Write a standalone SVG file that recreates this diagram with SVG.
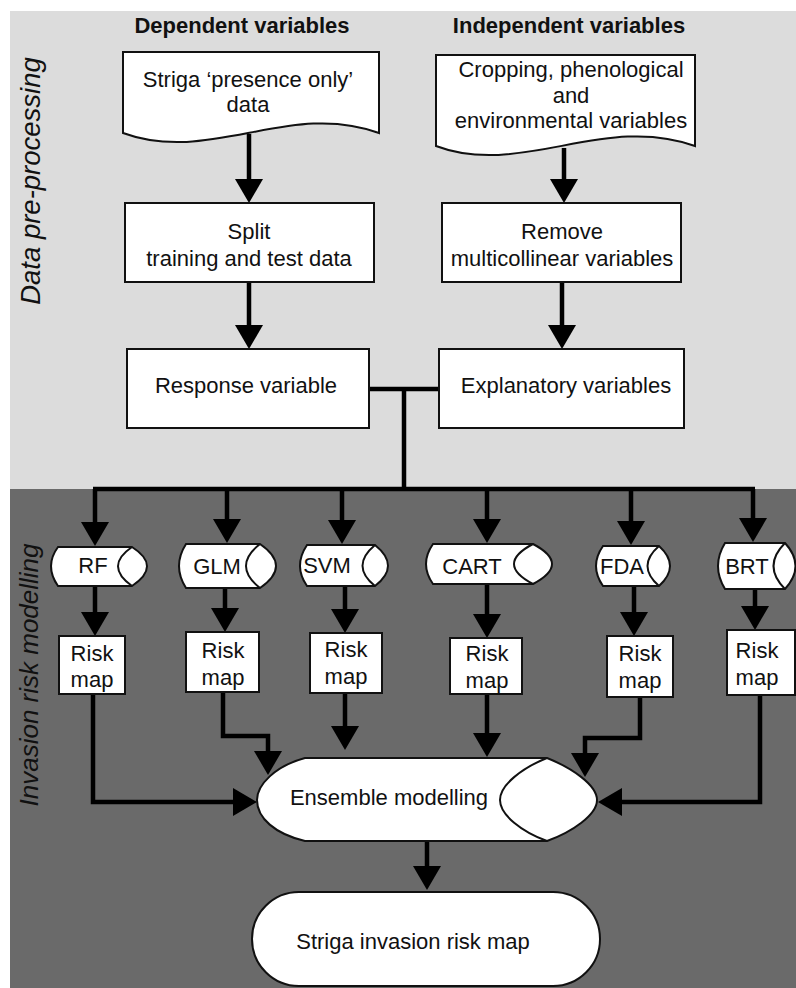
<svg xmlns="http://www.w3.org/2000/svg" width="796" height="988" viewBox="0 0 796 988">
<defs>
<style>
text{font-family:"Liberation Sans",Arial,sans-serif;font-size:22px;fill:#111;text-anchor:middle}
.hdr{font-weight:bold}
.side{font-style:italic;font-size:26px}
.side2{font-size:27.5px}
.box{fill:#fff;stroke:#111;stroke-width:2}
.ln{fill:none;stroke:#000;stroke-width:4.5}
.arr{marker-end:url(#ah)}
</style>
<marker id="ah" markerUnits="userSpaceOnUse" markerWidth="24" markerHeight="28" viewBox="0 0 24 28" refX="0" refY="14" orient="auto"><path d="M0,0 L24,14 L0,28 Z" fill="#000"/></marker>
</defs>
<rect x="0" y="0" width="796" height="988" fill="#fff"/>
<rect x="10" y="11" width="786" height="478" fill="#dcdcdc"/>
<rect x="10" y="489" width="786" height="499" fill="#6a6a6a"/>

<text class="side side2" transform="translate(40,181) rotate(-90)" x="0" y="0">Data pre-processing</text>
<text class="side" transform="translate(38,675) rotate(-90)" x="0" y="0">Invasion risk modelling</text>

<text class="hdr" x="242" y="33">Dependent variables</text>
<text class="hdr" x="569" y="33">Independent variables</text>

<g id="connectors">
<path class="ln arr" d="M249,134 V179"/>
<path class="ln arr" d="M564,148 V179"/>
<path class="ln arr" d="M249,282 V325"/>
<path class="ln arr" d="M562,282 V325"/>
<path class="ln" d="M369,389 H439 M404,389 V489"/>
<path class="ln" d="M93,489 H755"/>
<path class="ln arr" d="M95,489 V522"/>
<path class="ln arr" d="M227,489 V519"/>
<path class="ln arr" d="M342,489 V520"/>
<path class="ln arr" d="M487,489 V519"/>
<path class="ln arr" d="M631,489 V521"/>
<path class="ln arr" d="M753,489 V518"/>
<path class="ln arr" d="M95,586 V612"/>
<path class="ln arr" d="M225,588 V608"/>
<path class="ln arr" d="M345,586 V609"/>
<path class="ln arr" d="M487,584 V614"/>
<path class="ln arr" d="M634,586 V612"/>
<path class="ln arr" d="M755,589 V606"/>
<path class="ln arr" d="M93,694 V802 H233"/>
<path class="ln arr" d="M223,692 V736 H268 V751"/>
<path class="ln arr" d="M345,693 V726"/>
<path class="ln arr" d="M487,694 V733"/>
<path class="ln arr" d="M640,697 V738 H585 V753"/>
<path class="ln arr" d="M760,695 V802 H622"/>
<path class="ln arr" d="M427,841 V866"/>
</g>

<g id="striga-data">
<path class="box" d="M123,52 H379 V133 C290,100 210,165 123,133 Z"/>
<text x="248" y="87">Striga ‘presence only’</text>
<text x="248" y="112">data</text>
</g>
<g id="independent-data">
<path class="box" d="M436,55 H695 V146 C605,113 520,178 436,146 Z"/>
<text x="571" y="77">Cropping, phenological</text>
<text x="571" y="103">and</text>
<text x="571" y="128">environmental variables</text>
</g>
<g id="split">
<rect class="box" x="125" y="203" width="249" height="79"/>
<text x="249" y="239">Split</text>
<text x="249" y="266">training and test data</text>
</g>
<g id="remove">
<rect class="box" x="442" y="203" width="239" height="79"/>
<text x="562" y="239">Remove</text>
<text x="562" y="266">multicollinear variables</text>
</g>
<g id="response">
<rect class="box" x="127" y="349" width="242" height="79"/>
<text x="246" y="393">Response variable</text>
</g>
<g id="explanatory">
<rect class="box" x="439" y="349" width="245" height="79"/>
<text x="566" y="393">Explanatory variables</text>
</g>

<g id="rf">
<path class="box" d="M58,547 H132 Q162,566 132,586 H58 Q44,566 58,547 Z"/>
<path class="box" d="M132,547 Q104,566 132,586"/>
<text x="93" y="573">RF</text>
</g>
<g id="glm">
<path class="box" d="M186,544 H260 Q292,566 260,588 H186 Q172,566 186,544 Z"/>
<path class="box" d="M260,544 Q232,566 260,588"/>
<text x="217" y="574">GLM</text>
</g>
<g id="svm">
<path class="box" d="M307,545 H375 Q401,566 375,586 H307 Q293,566 307,545 Z"/>
<path class="box" d="M375,545 Q350,566 375,586"/>
<text x="327" y="573">SVM</text>
</g>
<g id="cart">
<path class="box" d="M433,544 H533 Q571,564 533,584 H433 Q419,564 433,544 Z"/>
<path class="box" d="M533,544 Q495,564 533,584"/>
<text x="472" y="574">CART</text>
</g>
<g id="fda">
<path class="box" d="M603,546 H659 Q681,566 659,586 H603 Q589,566 603,546 Z"/>
<path class="box" d="M659,546 Q636,566 659,586"/>
<text x="622" y="574">FDA</text>
</g>
<g id="brt">
<path class="box" d="M725,543 H785 Q806,566 785,589 H725 Q711,566 725,543 Z"/>
<path class="box" d="M785,543 Q762,566 785,589"/>
<text x="747" y="574">BRT</text>
</g>

<g id="risk-rf">
<rect class="box" x="59" y="636" width="66" height="58"/>
<text x="92" y="661">Risk</text><text x="92" y="687">map</text>
</g>
<g id="risk-glm">
<rect class="box" x="186" y="632" width="73" height="60"/>
<text x="223" y="658">Risk</text><text x="223" y="685">map</text>
</g>
<g id="risk-svm">
<rect class="box" x="310" y="633" width="72" height="60"/>
<text x="346" y="657">Risk</text><text x="346" y="684">map</text>
</g>
<g id="risk-cart">
<rect class="box" x="450" y="638" width="72" height="56"/>
<text x="487" y="661">Risk</text><text x="487" y="688">map</text>
</g>
<g id="risk-fda">
<rect class="box" x="607" y="636" width="66" height="61"/>
<text x="640" y="661">Risk</text><text x="640" y="688">map</text>
</g>
<g id="risk-brt">
<rect class="box" x="727" y="630" width="68" height="65"/>
<text x="757" y="658">Risk</text><text x="757" y="685">map</text>
</g>

<g id="ensemble">
<path class="box" d="M305,758 H547 C572,768 597,785 597,800 C597,815 572,832 547,841 H305 C275,834 257,818 257,800 C257,785 275,766 305,758 Z"/>
<path class="box" d="M547,758 C522,768 500,785 500,800 C500,815 522,832 547,841"/>
<text x="389" y="805">Ensemble modelling</text>
</g>

<g id="final">
<rect class="box" x="252" y="892" width="348" height="94" rx="47" ry="47"/>
<text x="413" y="949">Striga invasion risk map</text>
</g>
</svg>
